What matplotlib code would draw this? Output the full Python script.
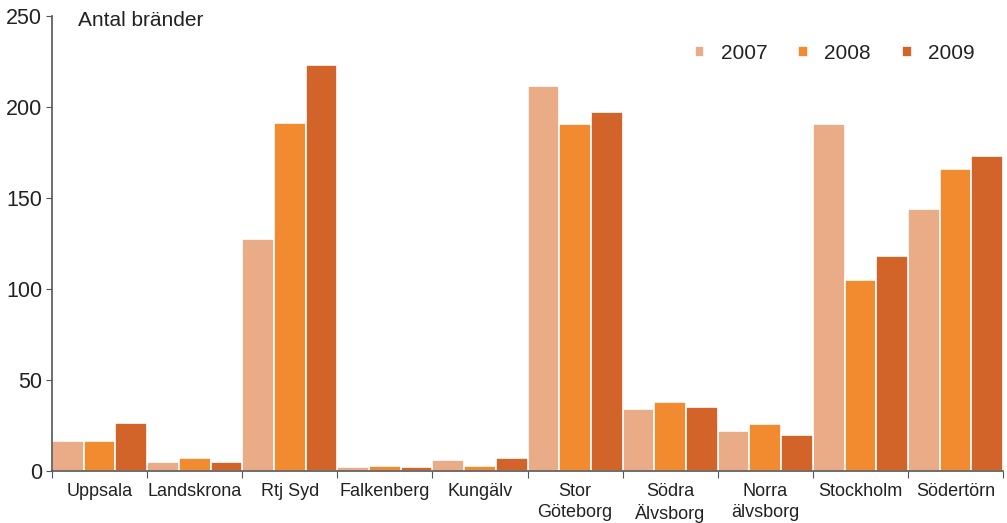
import matplotlib
matplotlib.use("Agg")
import matplotlib.pyplot as plt
import numpy as np

plt.rcParams['font.family'] = ['Liberation Sans', 'DejaVu Sans']

kategorier = ['Uppsala', 'Landskrona', 'Rtj Syd', 'Falkenberg', 'Kungälv',
              'Stor\nGöteborg', 'Södra\nÄlvsborg', 'Norra\nälvsborg', 'Stockholm', 'Södertörn']
ar = ['2007', '2008', '2009']
v2007 = [16.5, 5, 127.5, 2, 6, 211.5, 34, 22, 190.5, 144]
v2008 = [16.5, 7, 191, 3, 3, 190.5, 38, 26, 105, 166]
v2009 = [26.5, 5, 223, 2, 7, 197, 35, 20, 118, 173]
farger = ['#E9AC86', '#F28A30', '#D2642A']

fig = plt.figure(figsize=(10.07, 5.23), dpi=100)
ax = fig.add_axes([52/1007, 52/523, 951/1007, 455/523])

x = np.arange(len(kategorier))
w = 1/3
for i, (vals, c) in enumerate(zip([v2007, v2008, v2009], farger)):
    ax.bar(x - 0.5 + w*i + w/2, vals, width=w, color=c, edgecolor='white', linewidth=1.2, label=ar[i])

ax.set_xlim(-0.5, len(kategorier) - 0.5)
ax.set_ylim(0, 250)
ax.set_yticks([0, 50, 100, 150, 200, 250])
ax.set_xticks(np.arange(len(kategorier) + 1) - 0.5)
ax.set_xticklabels([])
ax.set_xticks(x, minor=True)
ax.set_xticklabels(kategorier, minor=True, fontsize=13, color='#222222', va='top', linespacing=1.25)
ax.tick_params(axis='x', which='minor', length=0, pad=9)
ax.tick_params(axis='x', which='major', length=5, color='#555555', direction='out')
ax.tick_params(axis='y', length=4, color='#555555', labelsize=15.5, labelcolor='#222222', pad=3)

for s in ['top', 'right']:
    ax.spines[s].set_visible(False)
for s in ['left', 'bottom']:
    ax.spines[s].set_color('#555555')
    ax.spines[s].set_linewidth(1.2)

fig.text(78/1007, 1 - 21/523, 'Antal bränder', fontsize=15, color='#222222', va='center')

leg = fig.legend(*ax.get_legend_handles_labels(), loc='upper right',
                 bbox_to_anchor=(975/1007, 1 - 44/523), ncol=3, frameon=False,
                 borderpad=0, borderaxespad=0,
                 fontsize=15, handlelength=0.45, handleheight=0.45, handletextpad=0.8,
                 columnspacing=1.5)
for t in leg.get_texts():
    t.set_color('#222222')

fig.savefig('out.png', dpi=100)
